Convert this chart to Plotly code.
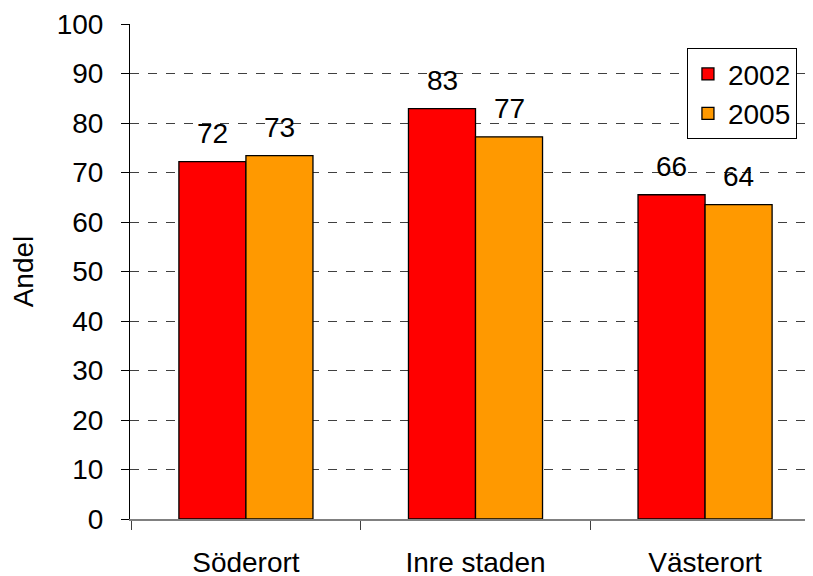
import plotly.graph_objects as go

# data
omraden = ["Söderort", "Inre staden", "Västerort"]
andel_2002 = [72.2, 82.9, 65.5]
andel_2005 = [73.4, 77.2, 63.5]
etikett_2002 = ["72", "83", "66"]
etikett_2005 = ["73", "77", "64"]
y_ticks = list(range(0, 101, 10))
grid_ticks = list(range(10, 100, 10))

FONT = "Liberation Sans, Arial, sans-serif"
FS = 28

fig = go.Figure()
fig.add_trace(go.Bar(
    x=omraden, y=andel_2002, name="2002",
    marker=dict(color="#FF0000", line=dict(color="#000000", width=1.3)),
))
fig.add_trace(go.Bar(
    x=omraden, y=andel_2005, name="2005",
    marker=dict(color="#FF9900", line=dict(color="#000000", width=1.3)),
))

# value labels above the bars (left bar / right bar of each group)
for serie, etiketter, skift in [(andel_2002, etikett_2002, -33.5), (andel_2005, etikett_2005, 33.5)]:
    for kat, v, txt in zip(omraden, serie, etiketter):
        fig.add_annotation(x=kat, y=v, text=txt, showarrow=False,
                           xshift=skift, yshift=11, yanchor="bottom",
                           font=dict(size=FS, family=FONT, color="black"))

fig.update_layout(
    width=813, height=576,
    margin=dict(l=122, r=0, t=16, b=65),
    paper_bgcolor="white", plot_bgcolor="white",
    font=dict(family=FONT, size=FS, color="black"),
    barmode="group", bargap=0.416, bargroupgap=0,
    showlegend=True,
    legend=dict(
        x=0.806, y=0.951, xanchor="left", yanchor="top",
        bordercolor="black", borderwidth=1, bgcolor="white",
        font=dict(size=FS, family=FONT),
        tracegroupgap=0,
    ),
)

fig.update_xaxes(
    range=[-0.505, 2.505], automargin=False,
    showline=True, linecolor="#808080", linewidth=1.5,
    ticks="", showgrid=False,
    tickfont=dict(size=FS, family=FONT),
    ticklabelstandoff=18,
    minor=dict(tickvals=[-0.5, 0.5, 1.5], ticks="outside", ticklen=9,
               tickcolor="#404040", tickwidth=1, showgrid=False),
)

fig.update_yaxes(
    range=[0, 100], tickvals=y_ticks, automargin=False,
    showline=True, linecolor="black", linewidth=1,
    ticks="outside", ticklen=8, tickcolor="black",
    showgrid=False, zeroline=False,
    tickfont=dict(size=FS, family=FONT),
    ticklabelstandoff=12,
    title=dict(text="Andel", font=dict(size=FS, family=FONT), standoff=18),
    minor=dict(tickvals=grid_ticks, showgrid=True, gridcolor="#404040",
               griddash="dash", gridwidth=1, ticks=""),
)

fig.write_html("out.html")
